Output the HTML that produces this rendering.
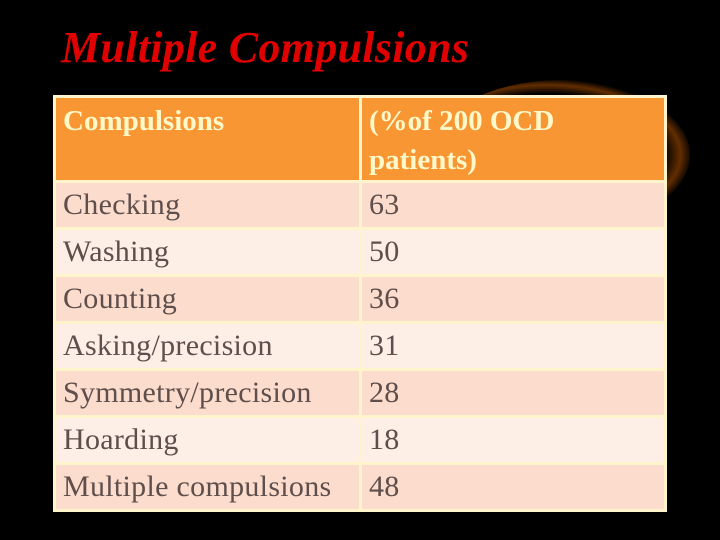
<!DOCTYPE html>
<html><head><meta charset="utf-8"><style>
body{margin:0;width:720px;height:540px;background:#000;overflow:hidden;position:relative;font-family:"Liberation Serif",serif}
#title{position:absolute;left:61px;top:22px;font-size:44px;font-weight:bold;font-style:italic;color:#e00000;white-space:nowrap;letter-spacing:0.3px}
#glow{position:absolute;left:430px;top:80px;width:260px;height:150px;border-radius:50%;background:radial-gradient(ellipse at 45% 50%,rgba(0,0,0,0) 58%,rgba(140,65,0,.7) 66%,rgba(60,25,0,0) 72%)}
table{position:absolute;left:53px;top:95px;width:614px;border-collapse:collapse;background:#fff4cc}
td{border:3px solid #fff4cc;padding:0 0 0 7px;font-size:30px;color:#5e4e4c;height:44px;vertical-align:middle;white-space:nowrap;letter-spacing:0.3px}
td.c1{width:296px}
tr.h td{background:#f99634;color:#fff8c8;font-weight:bold;font-size:29px;height:78px;vertical-align:top;line-height:39px;padding-top:4px;letter-spacing:0}
tr.a td{background:#fcdccc}
tr.b td{background:#fdeee6}
</style></head><body>
<div id="glow"></div>
<div id="title">Multiple Compulsions</div>
<table>
<tr class="h"><td class="c1">Compulsions</td><td>(%of 200 OCD<br>patients)</td></tr>
<tr class="a"><td class="c1">Checking</td><td>63</td></tr>
<tr class="b"><td class="c1">Washing</td><td>50</td></tr>
<tr class="a"><td class="c1">Counting</td><td>36</td></tr>
<tr class="b"><td class="c1">Asking/precision</td><td>31</td></tr>
<tr class="a"><td class="c1">Symmetry/precision</td><td>28</td></tr>
<tr class="b"><td class="c1">Hoarding</td><td>18</td></tr>
<tr class="a"><td class="c1">Multiple compulsions</td><td>48</td></tr>
</table>
</body></html>
